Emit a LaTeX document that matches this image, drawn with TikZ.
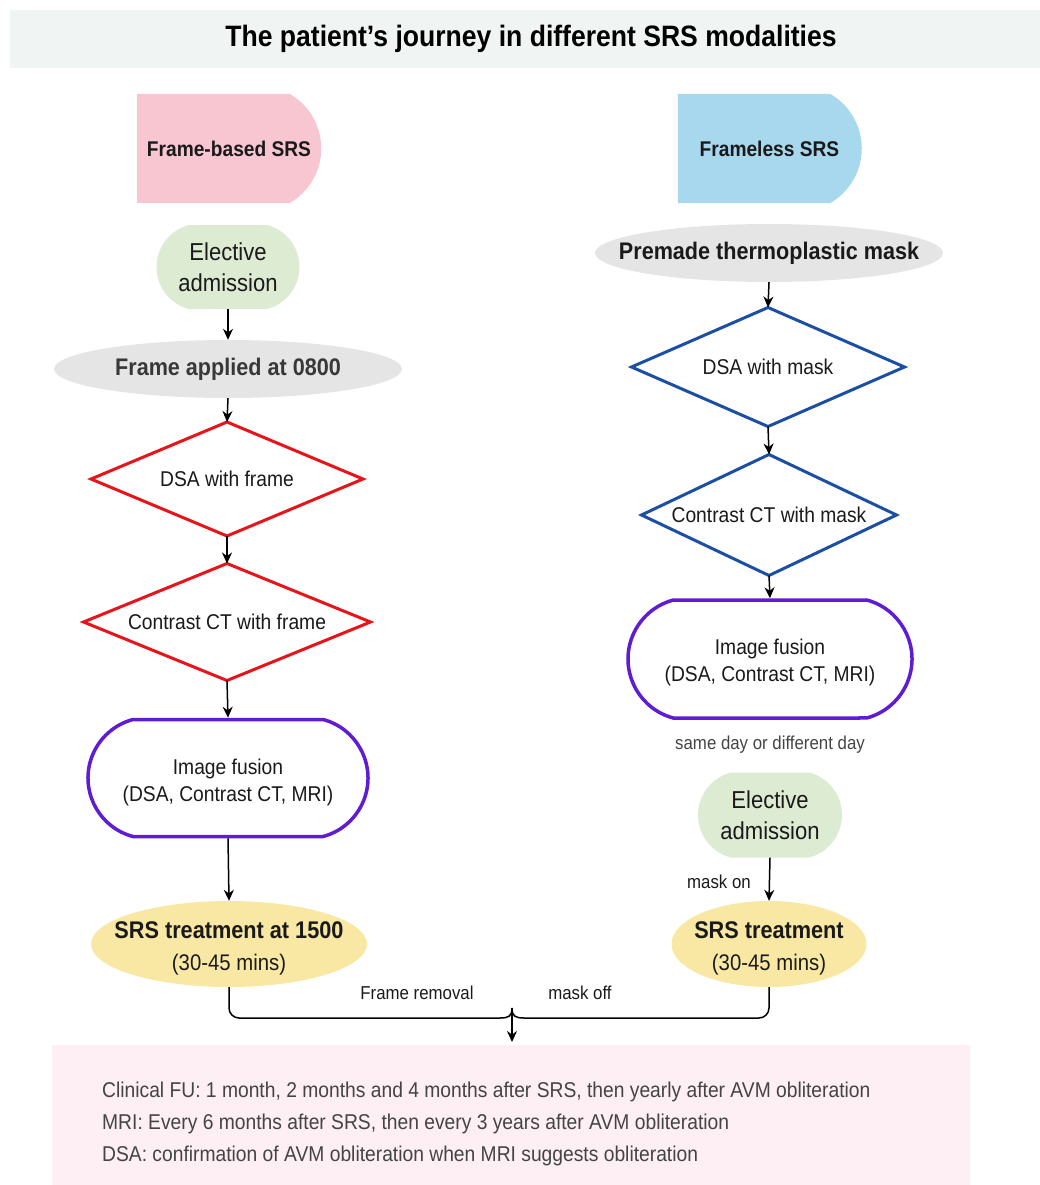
\documentclass[tikz,border=0pt]{standalone}
\usepackage{fontspec}
\setmainfont{Liberation Sans}[FakeStretch=0.9]
\usetikzlibrary{shapes.geometric,shapes.misc,arrows.meta}
\definecolor{bandc}{HTML}{F0F4F2}
\definecolor{pinkc}{HTML}{F8C6D0}
\definecolor{bluec}{HTML}{A8D8EE}
\definecolor{greenc}{HTML}{DDEBD3}
\definecolor{grayc}{HTML}{E5E5E5}
\definecolor{redc}{HTML}{E8141C}
\definecolor{navyc}{HTML}{1C4FA3}
\definecolor{purplec}{HTML}{5F1CD2}
\definecolor{yellowc}{HTML}{F9E8A4}
\definecolor{fubox}{HTML}{FDEFF3}
\definecolor{txt}{HTML}{1A1A1A}
\definecolor{softtxt}{HTML}{444444}
\tikzset{
  startbox/.style={rounded rectangle, rounded rectangle west arc=none, rounded rectangle arc length=120,
    minimum width=184pt, minimum height=109pt, inner sep=0pt, text=txt, font=\fontsize{21.3}{24}\selectfont\bfseries},
  admitbox/.style={rounded rectangle, rounded rectangle arc length=150, fill=greenc,
    minimum width=143pt, minimum height=84pt, inner sep=0pt, text=txt, align=center,
    font=\fontsize{24.5}{31}\selectfont},
  grayell/.style={ellipse, fill=grayc, minimum width=348pt, minimum height=58pt, inner sep=0pt},
  graytext/.style={inner sep=0pt, font=\fontsize{24}{28}\selectfont\bfseries},
  diabox/.style={rectangle, inner sep=0pt, outer sep=0pt, text=txt, font=\fontsize{21.4}{24}\selectfont},
  dialine/.style={line width=3pt, line join=miter},
  fusion/.style={rounded rectangle, rounded rectangle arc length=150, draw=purplec, line width=3.5pt,
    minimum width=280pt, minimum height=117pt, inner sep=0pt, text=txt},
  fusiontext/.style={align=center, text=txt, inner sep=0pt, font=\fontsize{21.4}{27}\selectfont},
  srsell/.style={ellipse, fill=yellowc, inner sep=0pt, minimum height=86pt},
  srstext/.style={align=center, text=txt, inner sep=0pt, font=\fontsize{22.6}{32}\selectfont},
  flow/.style={line width=1.5pt, -{Stealth[length=11pt,width=10pt]}},
  smalllab/.style={text=softtxt, font=\fontsize{18.7}{22}\selectfont, inner sep=0pt},
}
\begin{document}
\begin{tikzpicture}[x=1pt,y=-1pt]
\useasboundingbox (0,0) rectangle (1040,1185);
% title band
\fill[bandc] (10,10) rectangle (1040,68);
\node[font=\fontsize{29.5}{32}\selectfont\bfseries, text=black, inner sep=0pt] (title) at (531,39) {The patient's journey in different SRS modalities};
% follow-up box
\fill[fubox] (52,1045) rectangle (970,1185);
\node[anchor=north west, align=left, text=softtxt, inner sep=0pt, font=\fontsize{21.4}{32}\selectfont] (fu) at (102,1082)
  {Clinical FU: 1 month, 2 months and 4 months after SRS, then yearly after AVM obliteration\\
   MRI: Every 6 months after SRS, then every 3 years after AVM obliteration\\
   DSA: confirmation of AVM obliteration when MRI suggests obliteration};
\coordinate (futop) at (512,1045);

% left column
\node[startbox, fill=pinkc] (fb) at (229,148.5) {Frame-based SRS};
\node[admitbox] (ladm) at (228,267) {Elective\\admission};
\node[grayell] (frame) at (228,369) {};
\node[graytext, text=black!78] (framet) at (228,369) {Frame applied at 0800};
\node[diabox, minimum width=272pt, minimum height=114pt] (ldsa) at (227,479) {DSA with frame};
\draw[dialine, redc] (ldsa.north) -- (ldsa.east) -- (ldsa.south) -- (ldsa.west) -- cycle;
\node[diabox, minimum width=287pt, minimum height=117pt] (lct) at (227,622) {Contrast CT with frame};
\draw[dialine, redc] (lct.north) -- (lct.east) -- (lct.south) -- (lct.west) -- cycle;
\node[fusion] (lfus) at (228,778) {};
\node[fusiontext] (lfust) at (228,782) {Image fusion\\(DSA, Contrast CT, MRI)};
\node[srsell, minimum width=276pt] (lsrs) at (229,944) {};
\node[srstext] (lsrst) at (229,948.5) {{\bfseries\fontsize{24.1}{28}\selectfont SRS treatment at 1500}\\(30-45 mins)};

% right column
\node[startbox, fill=bluec] (fl) at (769.5,148.5) {Frameless SRS};
\node[grayell] (mask) at (769,253) {};
\node[graytext, text=txt] (maskt) at (769,253) {Premade thermoplastic mask};
\node[diabox, minimum width=273pt, minimum height=119pt] (rdsa) at (768,367) {DSA with mask};
\draw[dialine, navyc] (rdsa.north) -- (rdsa.east) -- (rdsa.south) -- (rdsa.west) -- cycle;
\node[diabox, minimum width=255pt, minimum height=121pt] (rct) at (769,515) {Contrast CT with mask};
\draw[dialine, navyc] (rct.north) -- (rct.east) -- (rct.south) -- (rct.west) -- cycle;
\node[fusion, minimum width=284pt, minimum height=118pt] (rfus) at (770,659) {};
\node[fusiontext] (rfust) at (770,662) {Image fusion\\(DSA, Contrast CT, MRI)};
\node[smalllab] (sameday) at (770,745) {same day or different day};
\node[admitbox, minimum width=144pt, minimum height=85pt] (radm) at (770,815) {Elective\\admission};
\node[srsell, minimum width=195pt] (rsrs) at (769,944) {};
\node[srstext] (rsrst) at (769,948.5) {{\bfseries\fontsize{24.1}{28}\selectfont SRS treatment}\\(30-45 mins)};
\node[smalllab, text=txt, anchor=east] (maskon) at (751,882) {mask on};

% connectors left
\draw[flow] (ladm.south) -- (frame.north);
\draw[flow] (frame.south) -- (ldsa.north);
\draw[flow] (ldsa.south) -- (lct.north);
\draw[flow] (lct.south) -- (lfus.north);
\draw[flow] (lfus.south) -- (lsrs.north);
% connectors right
\draw[flow] (mask.south) -- (rdsa.north);
\draw[flow] (rdsa.south) -- (rct.north);
\draw[flow] (rct.south) -- (rfus.north);
\draw[flow] (radm.south) -- (rsrs.north);

% brace joining both paths
\coordinate (bracec) at (512,1018);
\draw[line width=1.5pt, rounded corners=10pt] (lsrs.south) -- (lsrs.south |- bracec) -- ([xshift=-12pt]bracec);
\draw[line width=1.5pt, rounded corners=10pt] (rsrs.south) -- (rsrs.south |- bracec) -- ([xshift=12pt]bracec);
\draw[line width=1.5pt] ([xshift=-12pt]bracec) .. controls ([xshift=-3pt]bracec) and ([yshift=2pt]bracec) .. ([yshift=10pt]bracec);
\draw[line width=1.5pt] ([xshift=12pt]bracec) .. controls ([xshift=3pt]bracec) and ([yshift=2pt]bracec) .. ([yshift=10pt]bracec);
\draw[flow] ([yshift=8pt]bracec) -- ([yshift=3pt]futop);
\node[smalllab, text=txt] (frem) at (417,993) {Frame removal};
\node[smalllab, text=txt] (moff) at (580,993) {mask off};
\end{tikzpicture}
\end{document}
